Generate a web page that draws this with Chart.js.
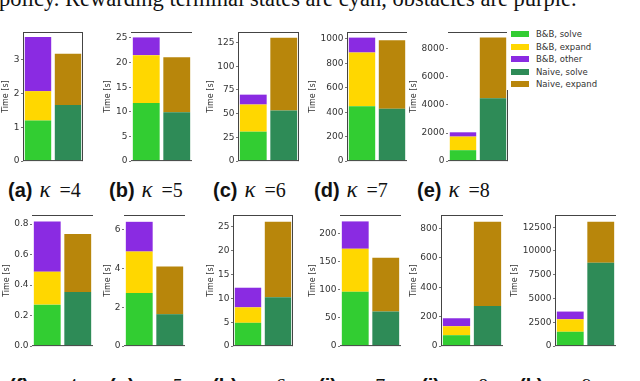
<!DOCTYPE html>
<html>
<head>
<meta charset="utf-8">
<script src="https://cdn.jsdelivr.net/npm/chart.js@4.4.1/dist/chart.umd.min.js"></script>
<style>
html, body { margin: 0; padding: 0; background: #fff; }
body { width: 640px; height: 381px; position: relative; overflow: hidden; }
canvas { position: absolute; }
#top { position: absolute; left: -1px; top: -12px; font: 22.5px/22px "Liberation Serif", serif; color: #111; white-space: nowrap; }
.cap { position: absolute; font: 20px/20px "Liberation Serif", serif; color: #111; white-space: nowrap; }
.cap b { font-family: "Liberation Sans", sans-serif; font-weight: bold; }
.cap i { display: inline-block; width: 20px; margin-left: 7px; font-size: 23px; }
#legend { position: absolute; left: 507px; top: 28px; width: 97px; height: 62px; background: #fff; }
.item { position: absolute; left: 0; height: 12px; font: 8.5px/12px "DejaVu Sans", sans-serif; color: #333; white-space: nowrap; }
.sw { position: absolute; left: 4px; top: 3px; width: 18px; height: 6px; }
.item span { position: absolute; left: 29px; top: 0; }
</style>
</head>
<body>
<div id="top">policy. Rewarding terminal states are cyan, obstacles are purple.</div>
<script>
// one entry per sub-figure (a)..(k)
const panels = ['a', 'b', 'c', 'd', 'e', 'f', 'g', 'h', 'i', 'j', 'k'];
const kappa = [4, 5, 6, 7, 8, 4, 5, 6, 7, 8, 9];
const seriesNames = ['B&B, solve', 'B&B, expand', 'B&B, other', 'Naive, solve', 'Naive, expand'];
const colors = ['#32cd32', '#ffd700', '#8a2be2', '#2e8b57', '#b8860b'];

// time [s] per segment (stacked)
const bbSolve     = [1.2, 11.8, 31, 450, 777, 0.272, 2.73, 4.87, 96.5, 74, 1506];
const bbExpand    = [0.87, 9.7, 28.6, 439, 968, 0.216, 2.13, 3.23, 76.5, 61, 1318];
const bbOther     = [1.6, 3.6, 10.4, 122, 305, 0.329, 1.53, 4.1, 48.6, 54, 806];
const naiveSolve  = [1.66, 9.9, 53.3, 428, 4480, 0.355, 1.64, 10.2, 61.5, 273, 8755];
const naiveExpand = [1.52, 11.2, 76.7, 561, 4310, 0.381, 2.45, 15.8, 95.5, 572, 4320];

// y axes
const yMax      = [3.82, 26.2, 136, 1057, 9190, 0.86, 6.74, 27.4, 233, 890, 13780];
const yStep     = [1, 5, 25, 200, 2000, 0.2, 2, 5, 50, 200, 2500];
const yDecimals = [0, 0, 0, 0, 0, 1, 0, 0, 0, 0, 0];

// page layout: plot box, y-title x, visible frame sides, caption position
const layout = [
    { L: 23,  R: 83,  T: 32,  B: 162, tx: 6,   sides: 'tlrb', cx: 8,   cy: 180 },
    { L: 131, R: 192, T: 32,  B: 162, tx: 108, sides: 'tb',   cx: 109, cy: 180 },
    { L: 238, R: 299, T: 32,  B: 162, tx: 211, sides: 'tlrb', cx: 213, cy: 180 },
    { L: 347, R: 407, T: 32,  B: 162, tx: 313, sides: 'tlb',  cx: 314, cy: 180 },
    { L: 448, R: 508, T: 32,  B: 162, tx: 414, sides: 'trb',  cx: 417, cy: 180 },
    { L: 32,  R: 93,  T: 215, B: 347, tx: 7,   sides: 'tb',   cx: 9,   cy: 376 },
    { L: 124, R: 185, T: 215, B: 347, tx: 108, sides: 'tb',   cx: 109, cy: 376 },
    { L: 233, R: 293, T: 215, B: 347, tx: 211, sides: 'tlrb', cx: 212, cy: 376 },
    { L: 340, R: 401, T: 215, B: 347, tx: 313, sides: 'tb',   cx: 318, cy: 376 },
    { L: 441, R: 503, T: 215, B: 347, tx: 414, sides: 'tlb',  cx: 421, cy: 376 },
    { L: 555, R: 616, T: 215, B: 347, tx: 515, sides: 'tlb',  cx: 519, cy: 376 }
];

// draws the partial axes boxes of the original figure
const framePlugin = {
    id: 'frame',
    afterDraw(chart, args, opts) {
        const { ctx, chartArea: a } = chart;
        const s = opts.sides || '';
        ctx.save();
        ctx.strokeStyle = '#444';
        ctx.lineWidth = 1;
        ctx.beginPath();
        if (s.includes('t')) { ctx.moveTo(a.left, a.top + 0.5); ctx.lineTo(a.right, a.top + 0.5); }
        if (s.includes('b')) { ctx.moveTo(a.left, a.bottom - 0.5); ctx.lineTo(a.right, a.bottom - 0.5); }
        if (s.includes('l')) { ctx.moveTo(a.left + 0.5, a.top); ctx.lineTo(a.left + 0.5, a.bottom); }
        if (s.includes('r')) { ctx.moveTo(a.right - 0.5, a.top); ctx.lineTo(a.right - 0.5, a.bottom); }
        ctx.stroke();
        ctx.restore();
    }
};

layout.forEach((p, i) => {
    const cl = Math.round(p.tx - 5);
    const aw = p.L - cl;
    const w = aw + (p.R - p.L) + 2;
    const h = (p.B - p.T) + 14;
    const cv = document.createElement('canvas');
    cv.width = w;
    cv.height = h;
    cv.style.left = cl + 'px';
    cv.style.top = (p.T - 8) + 'px';
    document.body.appendChild(cv);

    const seg = [bbSolve, bbExpand, bbOther, naiveSolve, naiveExpand];
    new Chart(cv, {
        type: 'bar',
        data: {
            labels: ['B&B', 'Naive'],
            datasets: seg.map((arr, k) => ({
                label: seriesNames[k],
                data: k < 3 ? [arr[i], null] : [null, arr[i]],
                backgroundColor: colors[k]
            }))
        },
        options: {
            responsive: false,
            animation: false,
            devicePixelRatio: 1,
            layout: { padding: { top: 8, bottom: 6, left: 0, right: 2 } },
            datasets: { bar: { categoryPercentage: 1, barPercentage: 0.88, borderWidth: 0 } },
            plugins: { legend: { display: false }, tooltip: { enabled: false }, frame: { sides: p.sides } },
            scales: {
                x: { stacked: true, display: false },
                y: {
                    stacked: true,
                    min: 0,
                    max: yMax[i],
                    afterFit: (s) => { s.width = aw; },
                    afterBuildTicks: (s) => {
                        const t = [];
                        for (let k = 0; k * yStep[i] <= yMax[i] + 1e-9; k++) t.push({ value: k * yStep[i] });
                        s.ticks = t;
                    },
                    ticks: {
                        padding: 1.5,
                        color: '#333',
                        font: { family: 'DejaVu Sans', size: 9 },
                        callback: (v) => yDecimals[i] ? v.toFixed(yDecimals[i]) : String(Math.round(v))
                    },
                    grid: { drawOnChartArea: false, tickLength: 2, color: '#777' },
                    border: { display: false },
                    title: { display: true, text: 'Time [s]', padding: 0, color: '#333', font: { family: 'DejaVu Sans', size: 8 } }
                }
            }
        },
        plugins: [framePlugin]
    });

    const cap = document.createElement('div');
    cap.className = 'cap';
    cap.style.left = p.cx + 'px';
    cap.style.top = p.cy + 'px';
    cap.innerHTML = '<b>(' + panels[i] + ')</b><i>κ</i>=' + kappa[i];
    document.body.appendChild(cap);
});

// legend, drawn over panel (e) like in the figure
const legend = document.createElement('div');
legend.id = 'legend';
seriesNames.forEach((name, k) => {
    const it = document.createElement('div');
    it.className = 'item';
    it.style.top = (0.3 + k * 12.4) + 'px';
    const sw = document.createElement('div');
    sw.className = 'sw';
    sw.style.background = colors[k];
    const tx = document.createElement('span');
    tx.textContent = name;
    it.appendChild(sw);
    it.appendChild(tx);
    legend.appendChild(it);
});
document.body.appendChild(legend);
</script>
</body>
</html>
